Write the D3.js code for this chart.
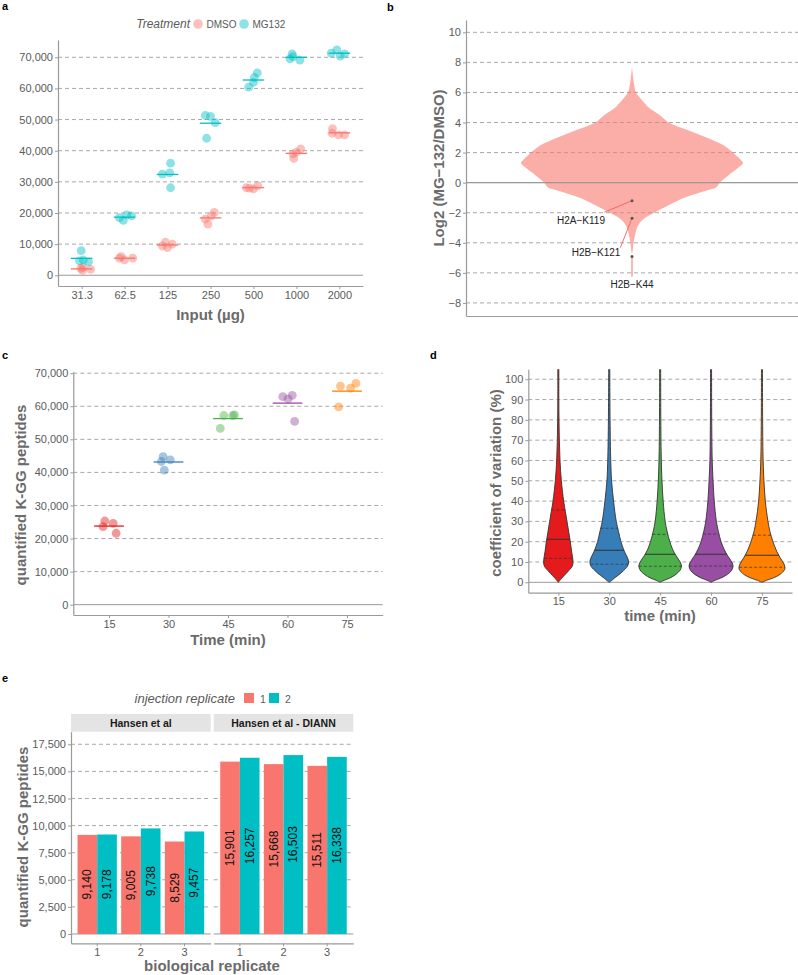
<!DOCTYPE html>
<html>
<head>
<meta charset="utf-8">
<script src="https://cdn.jsdelivr.net/npm/d3@7"></script>
<style>
  body { margin: 0; background: #fff; }
  svg { display: block; }
</style>
</head>
<body>
<svg id="fig" width="798" height="975"></svg>
<script>
// ---------- panel a: input titration ----------
const inputs = ["31.3", "62.5", "125", "250", "500", "1000", "2000"];
const treatments = ["DMSO", "MG132"];
const dmsoCounts = [
  [2500, 1600, 1900, 2200],
  [6000, 4900, 5500, 5500],
  [10600, 9400, 8900, 10000],
  [20200, 19100, 18000, 16400],
  [28100, 27700, 28800, 28000],
  [40600, 39500, 39000, 37500],
  [47100, 45600, 45100, 45100]
];
const mg132Counts = [
  [7900, 4600, 4900, 4300],
  [18500, 17600, 19400, 19100],
  [32500, 36000, 32900, 28100],
  [51300, 51000, 49000, 44000],
  [65000, 63500, 61900, 60400],
  [71100, 69500, 70200, 69100],
  [72400, 71300, 70400, 71100]
];
// horizontal jitter of the replicates, as a fraction of the category step
const dmsoJitter = [
  [0.03, 0.02, 0.21, -0.02], [-0.08, 0, 0.19, -0.12], [-0.05, -0.12, 0, 0.11],
  [0.09, 0.02, -0.12, -0.06], [-0.17, 0, 0.1, -0.09], [0.1, 0, -0.08, -0.06],
  [-0.16, -0.17, -0.02, 0.12]
];
const mg132Jitter = [
  [-0.01, -0.05, 0.04, 0.16], [-0.12, -0.03, 0.05, 0.16], [-0.12, 0.07, 0.05, 0.07],
  [-0.12, 0, 0.11, -0.09], [0.09, 0.02, 0, -0.11], [-0.1, -0.15, -0.08, 0.08],
  [-0.06, -0.19, 0.02, 0.12]
];

// ---------- panel b: log2 ratio distribution ----------
const log2Levels  = [7.7, 7.0, 6.5, 6.0, 5.5, 5.0, 4.5, 4.0, 3.5, 3.0, 2.5, 2.0, 1.5, 1.3, 1.0, 0.5, 0.0, -0.3, -0.5, -1.0, -1.5, -2.0, -2.5, -3.0, -3.5, -4.0, -4.6, -4.75];
const log2Density = [0, 0.01, 0.02, 0.036, 0.09, 0.15, 0.25, 0.33, 0.5, 0.67, 0.82, 0.91, 0.98, 1.0, 0.96, 0.87, 0.79, 0.76, 0.68, 0.47, 0.33, 0.2, 0.09, 0.045, 0.027, 0.014, 0.005, 0];
const hitSites = ["H2A\u2212K119", "H2B\u2212K121", "H2B\u2212K44"];
const hitLog2 = [-1.2, -2.37, -4.92];

// ---------- panel c: gradient length ----------
const times = ["15", "30", "45", "60", "75"];
const kggCounts = [
  [25300, 24600, 23600, 21600],
  [44800, 43800, 43300, 40700],
  [57200, 57200, 57400, 53300],
  [62900, 62200, 63300, 55400],
  [66100, 65500, 66900, 59800]
];
const kggJitter = [
  [-0.07, 0.07, -0.1, 0.12], [-0.09, 0.03, -0.12, -0.07], [-0.07, 0.08, 0.11, -0.13],
  [-0.08, 0.01, 0.08, 0.12], [-0.11, 0.06, 0.15, -0.14]
];

// ---------- panel d: CV violins, [cv %, density a.u.] ----------
const cvDensity = [
  [[0,0],[1,5],[2,10],[5,27],[8,42],[10,44],[12,43],[15,40],[20,36],[25,31],[30,26],[35,21],[40,16],[50,9],[60,5],[70,3],[80,2],[90,1.5],[110,1.5]],
  [[0,0],[1,8],[2,15],[5,38],[8,55],[10,58],[12,55],[15,46],[20,35],[25,28],[30,21],[40,13],[50,7],[60,4.5],[80,2.5],[110,1.5]],
  [[0,0],[1,12],[2,28],[4,48],[6,60],[8,64],[10,60],[13,48],[16,38],[20,29],[25,21],[30,15],[40,9],[50,5.5],[60,3.5],[80,2],[110,1.5]],
  [[0,0],[1,12],[2,28],[4,50],[6,62],[8,66],[10,62],[13,50],[16,40],[20,30],[25,22],[30,16],[40,9.5],[50,6],[60,3.5],[80,2],[110,1.5]],
  [[0,0],[1,14],[2,32],[4,55],[6,67],[7,69],[9,66],[12,55],[15,45],[20,33],[25,24],[30,18],[40,10],[50,6],[60,3.5],[80,2],[110,1.5]]
];
const cvQ25 = [11.8, 8.9, 7.9, 8.0, 7.4];
const cvMedian = [21.2, 15.8, 13.8, 13.8, 13.3];
const cvQ75 = [35.6, 26.6, 23.6, 23.8, 23.2];

// ---------- panel e: Hansen et al reanalysis ----------
const bioReps = ["1", "2", "3"];
const injReps = ["1", "2"];
const sources = ["Hansen et al", "Hansen et al - DIANN"];
const hansenInj1 = [9140, 9005, 8529];
const hansenInj2 = [9178, 9738, 9457];
const diannInj1 = [15901, 15668, 15511];
const diannInj2 = [16257, 16503, 16338];

// ---------- styling ----------
const FONT = "'Liberation Sans', Arial, Helvetica, sans-serif";
const tickCol = "#5a5a5a", axisCol = "#9a9a9a", gridCol = "#a8a8a8", titleCol = "#6b6b6b";
const hue = { DMSO: "#F8766D", MG132: "#00BFC4" };
const set1 = ["#E41A1C", "#377EB8", "#4DAF4A", "#984EA3", "#FF7F00"];
const fmt = d3.format(",");

const svg = d3.select("#fig").attr("font-family", FONT);

function hGrid(g, y, vals, x0, x1) {
  g.append("g").selectAll("line").data(vals).join("line")
    .attr("x1", x0).attr("x2", x1)
    .attr("y1", d => y(d)).attr("y2", d => y(d))
    .attr("stroke", d => d === 0 ? axisCol : gridCol)
    .attr("stroke-width", 1)
    .attr("stroke-dasharray", d => d === 0 ? null : "4,3");
}
function styleAxis(ax, size) {
  ax.attr("font-family", FONT).attr("font-size", size || 11);
  ax.select(".domain").attr("stroke", axisCol).attr("stroke-width", 1.2);
  ax.selectAll(".tick line").attr("stroke", axisCol);
  ax.selectAll(".tick text").attr("fill", tickCol);
}
function xTitle(text, x, y) {
  svg.append("text").attr("x", x).attr("y", y).attr("text-anchor", "middle")
    .attr("font-size", 15).attr("font-weight", "bold").attr("fill", titleCol).text(text);
}
function yTitle(text, x, y) {
  svg.append("text").attr("transform", `translate(${x},${y}) rotate(-90)`)
    .attr("text-anchor", "middle")
    .attr("font-size", 15).attr("font-weight", "bold").attr("fill", titleCol).text(text);
}
function letter(t, x, y) {
  svg.append("text").attr("x", x).attr("y", y).attr("font-size", 11)
    .attr("font-weight", "bold").attr("fill", "#000").text(t);
}

// ================= panel a =================
{
  const g = svg.append("g");
  const x = d3.scalePoint().domain(inputs).range([58, 363]).padding(0.55);
  const y = d3.scaleLinear().domain([-3450, 75550]).range([286, 40]);
  const ticks = d3.range(0, 70001, 10000);
  hGrid(g, y, ticks, 58, 363);

  const groups = [
    { t: "DMSO", vals: dmsoCounts, jit: dmsoJitter },
    { t: "MG132", vals: mg132Counts, jit: mg132Jitter }
  ];
  groups.forEach(gr => {
    const pts = [];
    inputs.forEach((c, i) => gr.vals[i].forEach((v, k) => pts.push({ c, v, j: gr.jit[i][k] })));
    g.append("g").selectAll("circle").data(pts).join("circle")
      .attr("cx", d => x(d.c) + d.j * x.step())
      .attr("cy", d => y(d.v))
      .attr("r", 4.4)
      .attr("fill", hue[gr.t]).attr("fill-opacity", 0.45);
    g.append("g").selectAll("line").data(inputs).join("line")
      .attr("x1", c => x(c) - 0.25 * x.step()).attr("x2", c => x(c) + 0.25 * x.step())
      .attr("y1", (c, i) => y(d3.mean(gr.vals[i]))).attr("y2", (c, i) => y(d3.mean(gr.vals[i])))
      .attr("stroke", hue[gr.t]).attr("stroke-width", 1.3);
  });

  styleAxis(g.append("g").attr("transform", "translate(58,0)")
    .call(d3.axisLeft(y).tickValues(ticks).tickFormat(fmt).tickSize(3).tickSizeOuter(0).tickPadding(2)));
  styleAxis(g.append("g").attr("transform", "translate(0,286)")
    .call(d3.axisBottom(x).tickSize(3).tickSizeOuter(0).tickPadding(2)));
  xTitle("Input (\u00b5g)", 210.5, 320);

  // legend
  g.append("text").attr("x", 190).attr("y", 28).attr("text-anchor", "end")
    .attr("font-size", 12).attr("font-style", "italic").attr("fill", tickCol).text("Treatment");
  const lx = [198, 244];
  treatments.forEach((t, i) => {
    g.append("circle").attr("cx", lx[i]).attr("cy", 24).attr("r", 4.8)
      .attr("fill", hue[t]).attr("fill-opacity", 0.45);
    g.append("text").attr("x", lx[i] + 8.5).attr("y", 27.5).attr("font-size", 10)
      .attr("fill", tickCol).text(t);
  });
  letter("a", 2, 10);
}

// ================= panel b =================
{
  const g = svg.append("g");
  const x = d3.scalePoint().domain(["ratio"]).range([466, 798]).padding(0.5);
  const y = d3.scaleLinear().domain([-8.87, 10.82]).range([316, 20]);
  const w = d3.scaleLinear().domain([0, 1]).range([0, 111]);
  const ticks = d3.range(-8, 10.1, 2);
  hGrid(g, y, ticks, 466, 798);
  const cx = x("ratio");
  const prof = log2Levels.map((v, i) => ({ v, d: log2Density[i] }));
  g.append("path").datum(prof)
    .attr("d", d3.area().y(d => y(d.v)).x0(d => cx - w(d.d)).x1(d => cx + w(d.d)).curve(d3.curveCatmullRom))
    .attr("fill", "#F8766D").attr("fill-opacity", 0.6);
  // redraw zero line on top of the violin
  g.append("line").attr("x1", 466).attr("x2", 798).attr("y1", y(0)).attr("y2", y(0))
    .attr("stroke", axisCol).attr("stroke-width", 1);

  // label placement (px offsets from the point): label centre and leader end
  const labelOff = [[-51, 19.5], [-36, 34], [0, 27.5]];
  const leadOff = [[-27.7, 11.6], [-11.7, 29.4], [0, 20]];
  hitSites.forEach((s, i) => {
    const py = y(hitLog2[i]);
    g.append("line").attr("x1", cx).attr("y1", py)
      .attr("x2", cx + leadOff[i][0]).attr("y2", py + leadOff[i][1])
      .attr("stroke", "#F0625A").attr("stroke-width", 0.9);
    g.append("circle").attr("cx", cx).attr("cy", py).attr("r", 1.5).attr("fill", "#555");
    g.append("text").attr("x", cx + labelOff[i][0]).attr("y", py + labelOff[i][1])
      .attr("text-anchor", "middle").attr("dominant-baseline", "central")
      .attr("font-size", 10).attr("fill", "#222").text(s);
  });

  styleAxis(g.append("g").attr("transform", "translate(466,0)")
    .call(d3.axisLeft(y).tickValues(ticks).tickSize(3).tickSizeOuter(0).tickPadding(2)));
  const xa = g.append("g").attr("transform", "translate(0,316)")
    .call(d3.axisBottom(x).tickSize(0).tickSizeOuter(0).tickFormat(""));
  styleAxis(xa);
  yTitle("Log2 (MG\u2212132/DMSO)", 444, 168);
  letter("b", 387, 11);
}

// ================= panel c =================
{
  const g = svg.append("g");
  const x = d3.scalePoint().domain(times).range([73.3, 382.7]).padding(0.6);
  const y = d3.scaleLinear().domain([-3120, 70450]).range([615, 371.7]);
  const ticks = d3.range(0, 70001, 10000);
  hGrid(g, y, ticks, 73.3, 382.7);
  times.forEach((t, i) => {
    const pts = kggCounts[i].map((v, k) => ({ v, j: kggJitter[i][k] }));
    g.append("g").selectAll("circle").data(pts).join("circle")
      .attr("cx", d => x(t) + d.j * x.step()).attr("cy", d => y(d.v))
      .attr("r", 4.4).attr("fill", set1[i]).attr("fill-opacity", 0.45);
    const m = d3.mean(kggCounts[i]);
    g.append("line").attr("x1", x(t) - 0.25 * x.step()).attr("x2", x(t) + 0.25 * x.step())
      .attr("y1", y(m)).attr("y2", y(m)).attr("stroke", set1[i]).attr("stroke-width", 1.3);
  });
  styleAxis(g.append("g").attr("transform", "translate(73.3,0)")
    .call(d3.axisLeft(y).tickValues(ticks).tickFormat(fmt).tickSize(3).tickSizeOuter(0).tickPadding(2)));
  styleAxis(g.append("g").attr("transform", "translate(0,615)")
    .call(d3.axisBottom(x).tickSize(3).tickSizeOuter(0).tickPadding(2)));
  xTitle("Time (min)", 228, 644.5);
  yTitle("quantified K-GG peptides", 26, 495);
  letter("c", 2, 359);
}

// ================= panel d =================
{
  const g = svg.append("g");
  const x = d3.scalePoint().domain(times).range([528.3, 792]).padding(0.59);
  const y = d3.scaleLinear().domain([-5.12, 104.9]).range([592.7, 369.3]);
  const w = d3.scaleLinear().domain([0, 69]).range([0, 23]);
  const ticks = d3.range(0, 100.1, 10);
  hGrid(g, y, ticks, 528.3, 792);

  svg.append("clipPath").attr("id", "clipD").append("rect")
    .attr("x", 528.3).attr("y", 369.3).attr("width", 263.7).attr("height", 223.4);
  const vg = g.append("g").attr("clip-path", "url(#clipD)");
  const widthAt = (prof, v) => {
    for (let k = 1; k < prof.length; k++) {
      if (v <= prof[k][0]) {
        const [a0, b0] = prof[k - 1], [a1, b1] = prof[k];
        return b0 + (b1 - b0) * (v - a0) / (a1 - a0);
      }
    }
    return 0;
  };
  times.forEach((t, i) => {
    const cx = x(t), prof = cvDensity[i];
    vg.append("path").datum(prof)
      .attr("d", d3.area().y(d => y(d[0])).x0(d => cx - w(d[1])).x1(d => cx + w(d[1])).curve(d3.curveCatmullRom))
      .attr("fill", set1[i]).attr("stroke", "#333").attr("stroke-width", 0.9);
    const qs = [
      { v: cvQ25[i], dash: "3,2", sw: 0.7 },
      { v: cvMedian[i], dash: null, sw: 1.1 },
      { v: cvQ75[i], dash: "3,2", sw: 0.7 }
    ];
    vg.append("g").selectAll("line").data(qs).join("line")
      .attr("x1", d => cx - w(widthAt(prof, d.v))).attr("x2", d => cx + w(widthAt(prof, d.v)))
      .attr("y1", d => y(d.v)).attr("y2", d => y(d.v))
      .attr("stroke", "#333").attr("stroke-width", d => d.sw).attr("stroke-dasharray", d => d.dash);
  });
  styleAxis(g.append("g").attr("transform", "translate(528.3,0)")
    .call(d3.axisLeft(y).tickValues(ticks).tickSize(3).tickSizeOuter(0).tickPadding(2)));
  styleAxis(g.append("g").attr("transform", "translate(0,592.7)")
    .call(d3.axisBottom(x).tickSize(3).tickSizeOuter(0).tickPadding(2)));
  xTitle("time (min)", 660, 621);
  yTitle("coefficient of variation (%)", 501, 483);
  letter("d", 430, 359);
}

// ================= panel e =================
{
  const g = svg.append("g");
  const y = d3.scaleLinear().domain([-860, 18660]).range([943.3, 731.7]);
  const ticks = d3.range(0, 17501, 2500);
  const facets = [
    { name: sources[0], range: [71, 210.7], vals: [hansenInj1, hansenInj2] },
    { name: sources[1], range: [213.7, 353.3], vals: [diannInj1, diannInj2] }
  ];
  const injCol = ["#F8766D", "#00BFC4"];
  facets.forEach((f, fi) => {
    const [x0, x1] = f.range;
    // strip
    g.append("rect").attr("x", x0).attr("y", 714).attr("width", x1 - x0).attr("height", 17.7)
      .attr("fill", "#e4e4e4");
    g.append("text").attr("x", (x0 + x1) / 2).attr("y", 726.5).attr("text-anchor", "middle")
      .attr("font-size", 10.5).attr("font-weight", "bold").attr("fill", "#1a1a1a").text(f.name);
    hGrid(g, y, ticks, x0, x1);
    const xb = d3.scaleBand().domain(bioReps).range(f.range).paddingInner(0.1).paddingOuter(0.15);
    const xi = d3.scaleBand().domain(injReps).range([0, xb.bandwidth()]);
    const bars = [];
    bioReps.forEach((r, ri) => injReps.forEach((s, si) => bars.push({ r, s, si, v: f.vals[si][ri] })));
    g.append("g").selectAll("rect").data(bars).join("rect")
      .attr("x", d => xb(d.r) + xi(d.s)).attr("width", xi.bandwidth())
      .attr("y", d => y(d.v)).attr("height", d => y(0) - y(d.v))
      .attr("fill", d => injCol[d.si]);
    g.append("g").selectAll("text").data(bars).join("text")
      .attr("transform", d => `translate(${xb(d.r) + xi(d.s) + xi.bandwidth() / 2},${y(d.v / 2)}) rotate(-90)`)
      .attr("text-anchor", "middle").attr("dominant-baseline", "central")
      .attr("font-size", 12).attr("fill", "#111").text(d => fmt(d.v));
    styleAxis(g.append("g").attr("transform", "translate(0,943.3)")
      .call(d3.axisBottom(xb).tickSize(3).tickSizeOuter(0).tickPadding(2)));
  });
  styleAxis(g.append("g").attr("transform", "translate(71,0)")
    .call(d3.axisLeft(y).tickValues(ticks).tickFormat(fmt).tickSize(3).tickSizeOuter(0).tickPadding(2)));
  xTitle("biological replicate", 212, 970.5);
  yTitle("quantified K-GG peptides", 28, 837);

  // legend
  g.append("text").attr("x", 235).attr("y", 703).attr("text-anchor", "end")
    .attr("font-size", 13).attr("font-style", "italic").attr("fill", tickCol).text("injection replicate");
  const lx = [244, 269];
  injReps.forEach((s, i) => {
    g.append("rect").attr("x", lx[i]).attr("y", 693).attr("width", 10).attr("height", 10).attr("fill", injCol[i]);
    g.append("text").attr("x", lx[i] + 16).attr("y", 702.5).attr("font-size", 10.5).attr("fill", tickCol).text(s);
  });
  letter("e", 2, 682);
}
</script>
</body>
</html>
